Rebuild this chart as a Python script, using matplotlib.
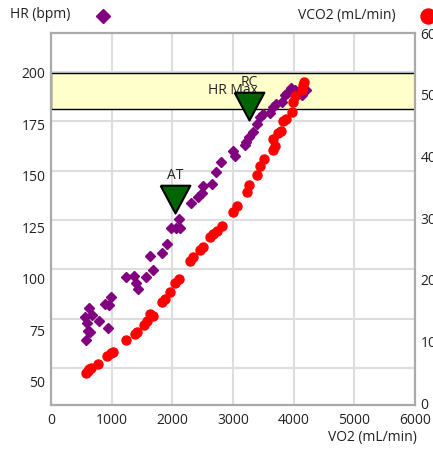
import matplotlib.pyplot as plt
from matplotlib.lines import Line2D

plt.rcParams['font.family'] = ['Open Sans', 'DejaVu Sans']
plt.rcParams['font.size'] = 10

# heart rate vs VO2
hr_vo2 = [560, 577, 598, 602, 626, 643, 671, 791, 890, 944, 961, 989,
          1244, 1376, 1409, 1439, 1566, 1637, 1676, 1830, 1907, 1970, 2060,
          2115, 2126, 2304, 2428, 2484, 2510, 2654, 2720, 2802, 3000, 3025,
          3206, 3214, 3264, 3325, 3396, 3445, 3499, 3610, 3659, 3709, 3808,
          3857, 3890, 3956, 4022, 4132, 4203]
hr_bpm = [81.3, 70.1, 78.4, 74.5, 85.7, 74.0, 82.3, 79.4, 87.6, 76.0, 87.1, 91.2,
          100.7, 101.0, 98.0, 94.8, 100.5, 110.7, 104.3, 112.4, 116.7, 124.4, 124.4,
          128.9, 124.4, 136.9, 139.6, 141.4, 144.9, 145.9, 151.8, 156.7, 161.7, 159.7,
          164.8, 166.4, 168.9, 171.3, 175.2, 178.2, 179.9, 180.2, 183.5, 184.7, 185.7,
          189.1, 190.0, 192.3, 191.5, 189.1, 191.5]

# VCO2 vs VO2
vco2_vo2 = [577, 602, 631, 659, 780, 928, 989, 1017, 1241, 1385, 1422, 1533,
            1577, 1632, 1676, 1825, 1879, 1961, 2044, 2118, 2291, 2346, 2456,
            2500, 2621, 2675, 2731, 2814, 2995, 3058, 3226, 3269, 3400, 3437,
            3506, 3659, 3664, 3692, 3747, 3791, 3824, 3874, 3967, 3981, 4030,
            4132, 4162, 4178]
vco2 = [501, 526, 550, 574, 631, 776, 817, 841, 1024, 1132, 1156, 1278,
        1331, 1456, 1423, 1642, 1698, 1803, 1949, 2014, 2313, 2369, 2491,
        2539, 2693, 2749, 2798, 2871, 3094, 3197, 3417, 3534, 3704, 3841,
        3962, 4286, 4108, 4173, 4388, 4407, 4569, 4601, 4727, 4884, 4973,
        5078, 5159, 5213]

# thresholds (tip of the triangle)
thr_names = ["AT", "RC"]
thr_vo2 = [2044, 3264]
thr_hr = [131.8, 176.9]

hr_max_band = (182.3, 200)

x_ticks = [0, 1000, 2000, 3000, 4000, 5000, 6000]
hr_ticks = [50, 75, 100, 125, 150, 175, 200]
vco2_ticks = [0, 1000, 2000, 3000, 4000, 5000, 6000]

W, H = 433, 451
fig = plt.figure(figsize=(W / 100, H / 100), dpi=100)
ax = fig.add_axes([51 / W, 46 / H, 364 / W, 372 / H])

ylo, yhi = 38.6, 219.2
ax.set_xlim(0, 6000)
ax.set_ylim(ylo, yhi)
ax.set_xticks(x_ticks)
ax.set_yticks(hr_ticks)

for s in ax.spines.values():
    s.set_color('#aaaaaa')
    s.set_linewidth(1.6)
ax.tick_params(length=0, colors='#222222')
ax.tick_params(axis='y', pad=4)
ax.tick_params(axis='x', pad=6)

# grid: vertical at x ticks, horizontal lines sit on a slightly different scale
for x in x_ticks[1:-1]:
    ax.axvline(x, color='#dddddd', lw=1.5, zorder=0.5)
for g in hr_ticks:
    frac = (g - 31.25) / (219.8 - 31.25)
    ax.axhline(ylo + frac * (yhi - ylo), color='#dddddd', lw=1.5, zorder=0.5)

# HR max band
ax.axhspan(*hr_max_band, facecolor='#ffffcc', edgecolor='black', lw=1, zorder=1)
ax.text(3000, sum(hr_max_band) / 2, "HR Max", ha='center', va='center',
        color='#222222', zorder=2)

ax.plot(hr_vo2, hr_bpm, linestyle='none', marker='D', markersize=5,
        color='#800080', zorder=3)

# threshold triangles, tip at the point
tri = [(-1.07, 2), (1.07, 2), (0, 0), (-1.07, 2)]
for name, x, y in zip(thr_names, thr_vo2, thr_hr):
    ax.plot([x], [y], linestyle='none', marker=tri, markersize=40,
            markerfacecolor='#006400', markeredgecolor='black',
            markeredgewidth=1.5, zorder=4)
    ax.annotate(name, (x, y), xytext=(0, 27), textcoords='offset points',
                ha='center', va='center', color='#222222', zorder=5)

ax2 = ax.twinx()
ax2.set_ylim(-25, 6000)
ax2.set_yticks(vco2_ticks)
ax2.tick_params(length=0, pad=4, colors='#222222')
for s in ax2.spines.values():
    s.set_visible(False)
ax2.plot(vco2_vo2, vco2, linestyle='none', marker='o', markersize=6.5,
         color='#ff0000', zorder=3)

# header legend and axis title
fig.text(10 / W, 1 - 15 / H, "HR (bpm)", va='center', color='#222222')
fig.add_artist(Line2D([103 / W], [1 - 16 / H], marker='D', markersize=7.6,
                      color='#800080', transform=fig.transFigure))
fig.text(298 / W, 1 - 15 / H, "VCO2 (mL/min)", va='center', color='#222222')
fig.add_artist(Line2D([428 / W], [1 - 16 / H], marker='o', markersize=10.8,
                      color='#ff0000', transform=fig.transFigure))
fig.text(417 / W, 1 - 438 / H, "VO2 (mL/min)", ha='right', va='center',
         color='#222222')

plt.savefig("out.png", dpi=100)
